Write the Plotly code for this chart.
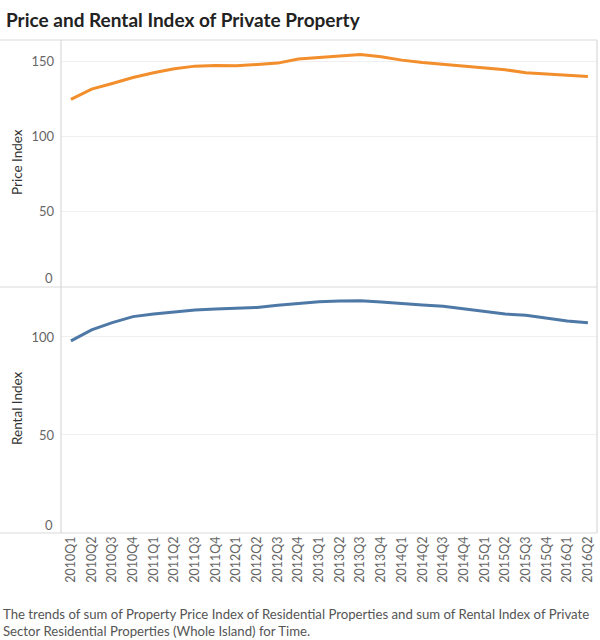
import plotly.graph_objects as go

quarters = [f"{y}Q{q}" for y in range(2010, 2017) for q in range(1, 5)][:26]
price_index = [125.0, 131.8, 135.5, 139.5, 142.7, 145.3, 147.1, 147.6, 147.3, 148.0,
               149.1, 151.8, 152.9, 154.0, 154.9, 153.3, 151.1, 149.5, 148.4, 147.1,
               145.8, 144.7, 142.7, 142.0, 141.1, 140.2]
rental_index = [98.0, 103.6, 107.3, 110.4, 111.7, 112.9, 113.8, 114.3, 114.6, 115.1,
                116.2, 117.0, 118.0, 118.4, 118.5, 117.9, 117.0, 116.3, 115.7, 114.4,
                112.8, 111.7, 111.1, 109.7, 108.2, 107.3]
price_ticks = [50, 100, 150]
rental_ticks = [50, 100]

W, H = 600, 640
L, R, T, B = 61, 597, 40, 533
MID = 287
pw, ph = R - L, B - T

def px(x):
    return (x - L) / pw

def py(y):
    return (B - y) / ph

split = py(MID)
FONT = "Lato"

fig = go.Figure()
fig.add_trace(go.Scatter(x=quarters, y=price_index, mode="lines",
                         line=dict(color="#F28E2B", width=3), xaxis="x", yaxis="y2",
                         name="Price Index"))
fig.add_trace(go.Scatter(x=quarters, y=rental_index, mode="lines",
                         line=dict(color="#4E79A7", width=3), xaxis="x", yaxis="y",
                         name="Rental Index"))

grid = "#f0f0f0"
border = "#d9d9d9"
tickfont = dict(family=FONT, size=13, color="#666666")

fig.update_layout(
    width=W, height=H,
    margin=dict(l=L, r=W - R, t=T, b=H - B),
    paper_bgcolor="white", plot_bgcolor="white",
    showlegend=False,
    font=dict(family=FONT),
    xaxis=dict(type="category", range=[-0.48, 25.44], tickangle=-90,
               tickfont=dict(family=FONT, size=12.5, color="#666666"),
               showgrid=False, zeroline=False, showline=False, ticks="",
               anchor="y"),
    yaxis=dict(domain=[0, split], range=[0, 125.5], tickvals=rental_ticks,
               tickfont=tickfont, gridcolor=grid, zeroline=False, showline=False,
               ticks="", ticklabelstandoff=6),
    yaxis2=dict(domain=[split, 1], range=[0, 164.5], tickvals=price_ticks,
                tickfont=tickfont, gridcolor=grid, zeroline=False, showline=False,
                ticks="", ticklabelstandoff=6, anchor="x"),
)

shapes = []
for yy in [T, MID, B]:
    shapes.append(dict(type="line", xref="paper", yref="paper",
                       x0=px(0), x1=px(R), y0=py(yy), y1=py(yy),
                       line=dict(color=border, width=1.2)))
for xx in [L, R]:
    shapes.append(dict(type="line", xref="paper", yref="paper",
                       x0=px(xx), x1=px(xx), y0=0, y1=1,
                       line=dict(color=border, width=1.2)))
fig.update_layout(shapes=shapes)

ann = []
ann.append(dict(text="<b>Price and Rental Index of Private Property</b>",
                xref="paper", yref="paper", x=px(4), y=py(19),
                xanchor="left", yanchor="middle", showarrow=False,
                font=dict(family=FONT, size=19, color="#222222")))
ann.append(dict(text="Price Index", xref="paper", yref="paper", x=px(17), y=py(162),
                textangle=-90, showarrow=False, xanchor="center", yanchor="middle",
                font=dict(family=FONT, size=13.5, color="#333333")))
ann.append(dict(text="Rental Index", xref="paper", yref="paper", x=px(17), y=py(408),
                textangle=-90, showarrow=False, xanchor="center", yanchor="middle",
                font=dict(family=FONT, size=13.5, color="#333333")))
ann.append(dict(text="0", xref="paper", yref="paper", x=px(55), y=py(278),
                xanchor="right", yanchor="middle", showarrow=False, font=tickfont))
ann.append(dict(text="0", xref="paper", yref="paper", x=px(55), y=py(525),
                xanchor="right", yanchor="middle", showarrow=False, font=tickfont))
ann.append(dict(text="The trends of sum of Property Price Index of Residential Properties and sum of Rental Index of Private<br>Sector Residential Properties (Whole Island) for Time.",
                xref="paper", yref="paper", x=px(1), y=py(604),
                xanchor="left", yanchor="top", align="left", showarrow=False,
                font=dict(family=FONT, size=13.2, color="#555555")))
fig.update_layout(annotations=ann)

fig.write_html("out.html")
